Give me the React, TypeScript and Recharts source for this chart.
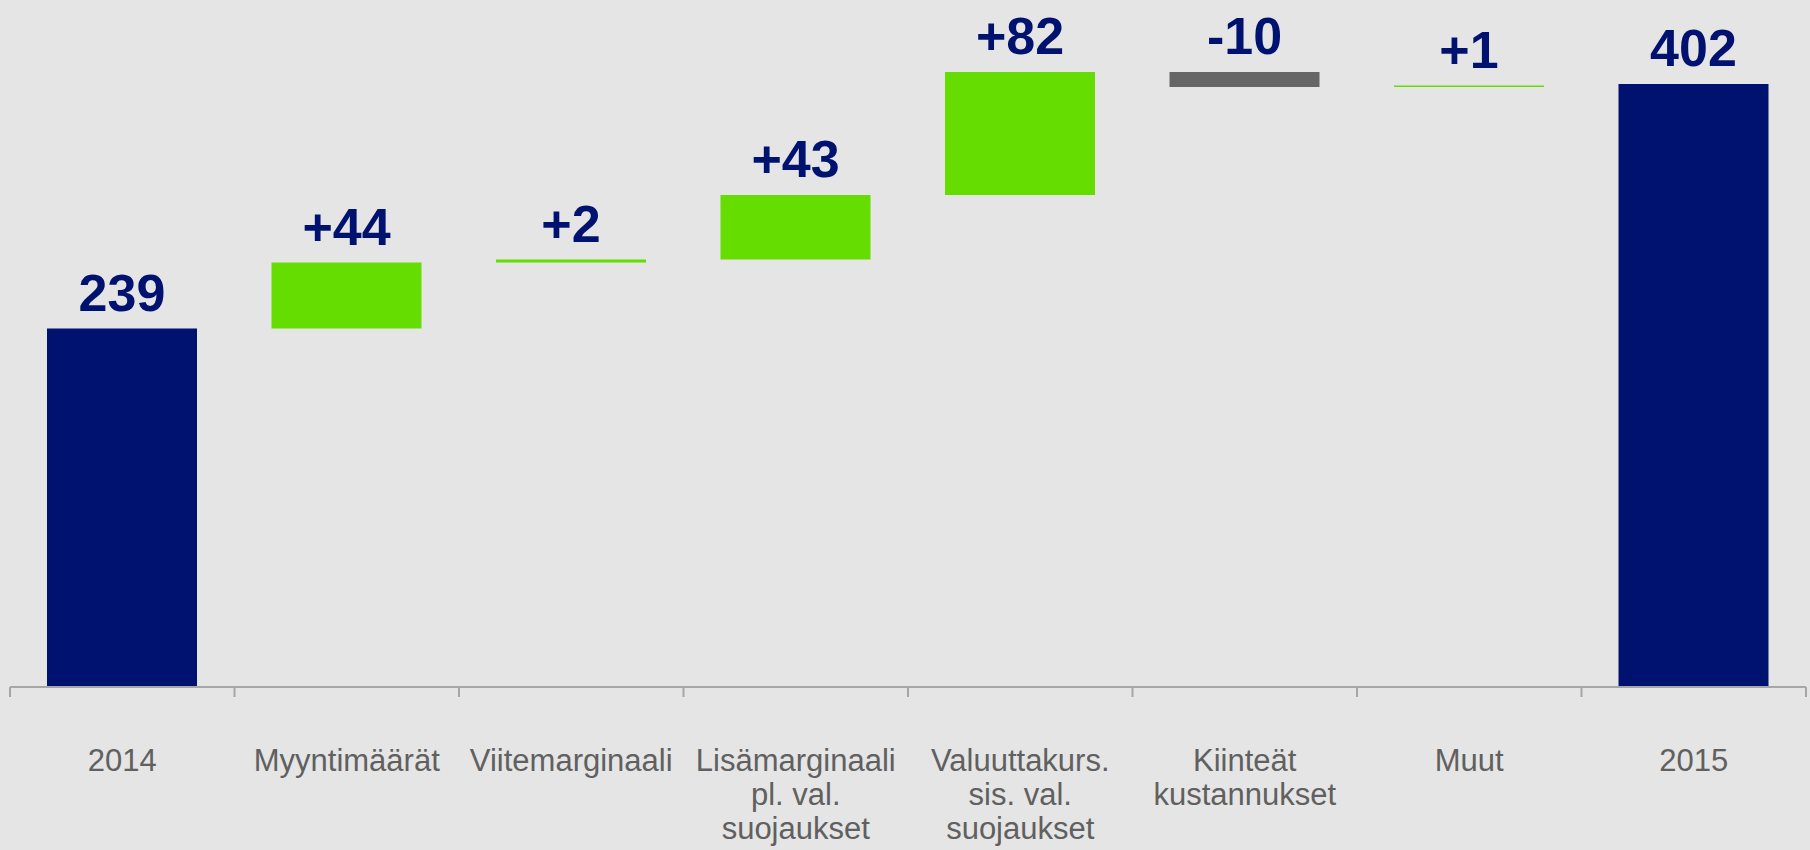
import React from "react";
import { Bar, BarChart, Cell, LabelList, XAxis, YAxis } from "recharts";

const categories = [
  "2014",
  "Myyntimäärät",
  "Viitemarginaali",
  "Lisämarginaali\npl. val.\nsuojaukset",
  "Valuuttakurs.\nsis. val.\nsuojaukset",
  "Kiinteät\nkustannukset",
  "Muut",
  "2015",
];
const values = [239, 44, 2, 43, 82, -10, 1, 402];
const totals = [true, false, false, false, false, false, false, true];

const W = 1810;
const H = 850;
const MARGIN = { top: 12, right: 4, left: 10, bottom: 0 };
const AXIS_H = 163;
const AXIS_Y = H - AXIS_H;
const BAND = (W - MARGIN.left - MARGIN.right) / categories.length;

const NAVY = "#00126F";
const GREEN = "#66DD00";
const GREY = "#666666";

// waterfall: invisible base + visible step
let run = 0;
const rows = categories.map((name, i) => {
  const v = values[i];
  if (totals[i]) {
    run = v;
    return { name, base: 0, step: v, label: `${v}`, color: NAVY };
  }
  const base = Math.min(run, run + v);
  run += v;
  return {
    name,
    base,
    step: Math.abs(v),
    label: v > 0 ? `+${v}` : `${v}`,
    color: v < 0 ? GREY : GREEN,
  };
});

const CategoryTick = ({ x, payload, index }) => {
  const lines = String(payload.value).split("\n");
  const left = x - BAND / 2;
  return (
    <g>
      <line x1={left} y1={AXIS_Y} x2={left} y2={AXIS_Y + 10} stroke="#a6a6a6" strokeWidth={2} />
      {index === categories.length - 1 && (
        <line x1={x + BAND / 2} y1={AXIS_Y} x2={x + BAND / 2} y2={AXIS_Y + 10} stroke="#a6a6a6" strokeWidth={2} />
      )}
      <text x={x} y={AXIS_Y + 84} textAnchor="middle" fill="#606060" fontSize={31} fontFamily="'Liberation Sans', Arial, sans-serif">
        {lines.map((l, k) => (
          <tspan key={k} x={x} dy={k === 0 ? 0 : 34}>
            {l}
          </tspan>
        ))}
      </text>
    </g>
  );
};

const renderStepLabel = ({ x, y, width, value }) => (
  <text
    x={x + width / 2}
    y={y - 18}
    textAnchor="middle"
    fill={NAVY}
    fontSize={52}
    fontWeight="bold"
    fontFamily="'Liberation Sans', Arial, sans-serif"
  >
    {value}
  </text>
);

export default function App() {
  return (
    <div style={{ position: "absolute", left: 0, top: 0, width: W, height: H, background: "#e5e5e5" }}>
      <BarChart width={W} height={H} data={rows} margin={MARGIN} barSize={150}>
        <XAxis
          dataKey="name"
          height={AXIS_H}
          interval={0}
          tickLine={false}
          axisLine={{ stroke: "#a6a6a6", strokeWidth: 2 }}
          tick={CategoryTick}
        />
        <YAxis hide domain={[0, 450]} />
        <Bar dataKey="base" stackId="w" fill="transparent" isAnimationActive={false} />
        <Bar dataKey="step" stackId="w" isAnimationActive={false}>
          {rows.map((r, i) => (
            <Cell key={i} fill={r.color} />
          ))}
          <LabelList dataKey="label" content={renderStepLabel} />
        </Bar>
      </BarChart>
    </div>
  );
}
